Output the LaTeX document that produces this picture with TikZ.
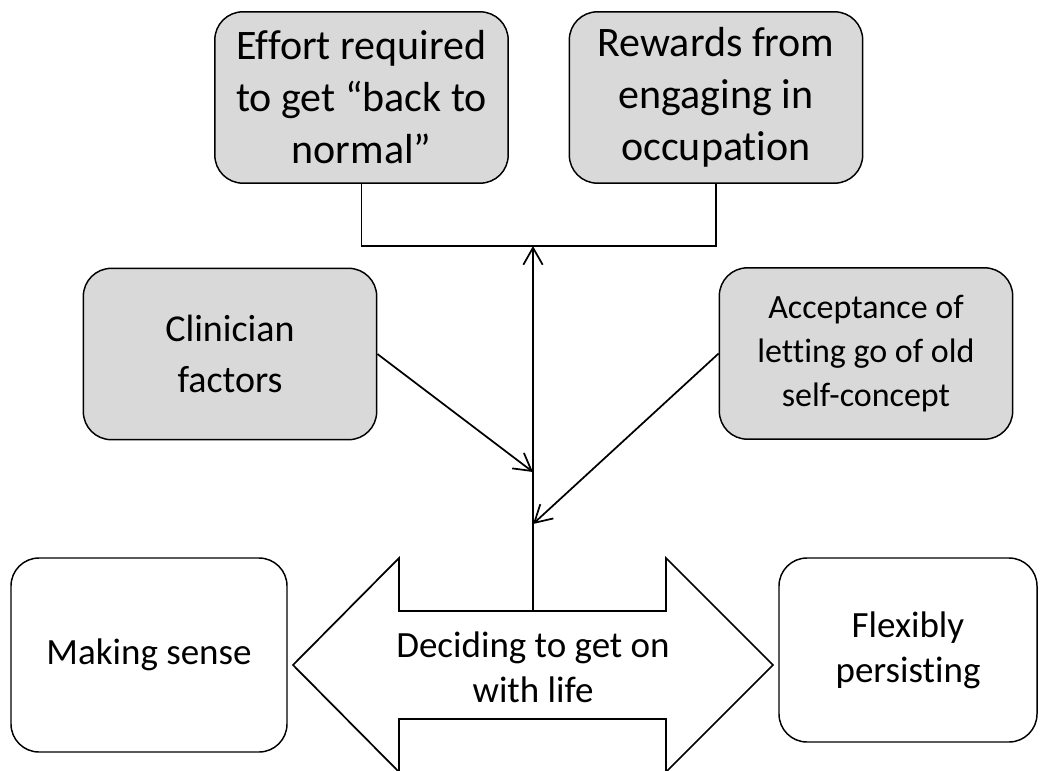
\documentclass[tikz,border=0pt]{standalone}
\usepackage{fontspec}
\setmainfont{Carlito}[Ligatures=NoCommon]
\usetikzlibrary{arrows.meta}
\definecolor{boxfill}{RGB}{217,217,217}
\begin{document}
\begin{tikzpicture}[x=0.75pt,y=-0.75pt,
  box/.style={draw=black, line width=1.1pt, rounded corners=21pt, align=center,
              inner sep=0pt, font=\fontsize{27.75}{34}\selectfont},
  factor/.style={box, fill=boxfill, minimum width=220pt, minimum height=128.5pt},
  stage/.style={box, fill=white},
  link/.style={line width=1.3pt, -{Straight Barb[length=12.75pt,width=14.5pt]}},
  conn/.style={line width=1.3pt},
  label/.style={align=center, inner sep=0pt, font=\fontsize{27.75}{34}\selectfont}]
\clip (0,0) rectangle (1048,770);
\fill[white] (0,0) rectangle (1048,770);

% influencing factors
\node[factor, font=\fontsize{31.5}{39}\selectfont] (effort) at (361.5,97.5)
  {Effort required\\to get “back to\\normal”};
\node[factor, font=\fontsize{31.5}{39}\selectfont] (rewards) at (716,97.5)
  {Rewards from\\engaging in\\occupation};
\node[factor, font=\fontsize{28.5}{38.5}\selectfont] (clinician) at (230,354)
  {Clinician\\factors};
\node[factor, font=\fontsize{25.5}{33}\selectfont] (acceptance) at (866,353.5)
  {Acceptance of\\letting go of old\\self-concept};

% process stages
\node[stage, minimum width=207pt, minimum height=145.5pt] (making) at (149,655) {Making sense};
\node[stage, minimum width=193.5pt, minimum height=138pt] (flexibly) at (908,650) {Flexibly\\persisting};

% central double arrow
\draw[line width=1.3pt, fill=white]
  (293,665) -- (399,558) -- (399,611) -- (666,611) -- (666,558) -- (773,665)
  -- (666,772) -- (666,719) -- (399,719) -- (399,772) -- cycle;
\node[label] (decide) at (533,667) {Deciding to get on\\with life};
\coordinate (shafttop) at (533,611);

% connectors
\coordinate (join) at (533,246);
\coordinate (cin) at (533,472);
\coordinate (ain) at (533,524);
\draw[conn] (effort.south) |- (join) -| (rewards.south);
\draw[link] (shafttop) -- (join);
\draw[link] (clinician.east) -- (cin);
\draw[link] (acceptance.west) -- (ain);
\end{tikzpicture}
\end{document}
